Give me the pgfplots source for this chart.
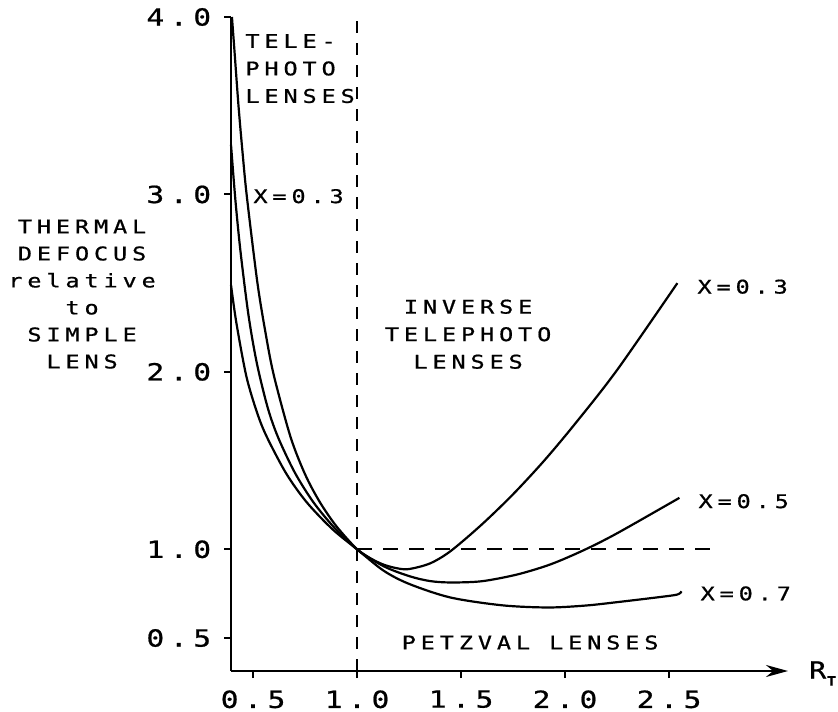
\documentclass[border=0pt]{standalone}
\usepackage{fontspec}
\usepackage{pgfplots}
\pgfplotsset{compat=1.18}
\usetikzlibrary{arrows.meta}
\newfontfamily\plotfont[FakeStretch=1.25,LetterSpace=26,FakeBold=0.8]{DejaVu Sans Mono}
\newfontfamily\tickfont[FakeStretch=1.25,LetterSpace=24,FakeBold=0.8]{DejaVu Sans Mono}
\newfontfamily\plainfont[FakeStretch=1.2,FakeBold=0.8]{DejaVu Sans Mono}
\newcommand{\lbl}{\fontsize{9.4pt}{13.75pt}\plotfont}
\newcommand{\lblb}{\fontsize{9.4pt}{13.5pt}\plotfont}
\newcommand{\tck}{\fontsize{11.8pt}{13pt}\tickfont}

\begin{document}
\begin{tikzpicture}
\path[use as bounding box] (0,0) rectangle (419pt,355.5pt);
\begin{axis}[
  at={(115.5pt,20pt)}, anchor=south west,
  scale only axis, width=278.5pt, height=327pt,
  xmin=0.394, xmax=3.072, ymin=0.314, ymax=4.0,
  axis x line=bottom, axis y line=left,
  x axis line style={line width=1.2pt,-{Stealth[length=11pt,width=6pt]}},
  y axis line style={line width=1.2pt,-},
  xtick={0.5,1.0,1.5,2.0,2.5}, xticklabels={0.5,1.0,1.5,2.0,2.5},
  ytick={0.5,1.0,2.0,3.0,4.0}, yticklabels={0.5,1.0,2.0,3.0,4.0},
  tick align=outside, major tick length=3.5pt,
  tick style={black, line width=1pt},
  xticklabel style={font=\tck, inner sep=0pt, yshift=-6pt},
  yticklabel style={font=\tck, inner sep=0pt, xshift=-6.25pt},
  clip=false,
]
% X = 0.3
\addplot[black, line width=1.1pt, smooth] coordinates {
(0.3985,4.0) (0.41,3.82) (0.43,3.50) (0.45,3.23) (0.47,2.99) (0.52,2.51)
(0.56,2.22) (0.60,1.98) (0.68,1.634) (0.75,1.423) (0.82,1.268) (0.90,1.131)
(1.0,1.0) (1.06,0.952) (1.12,0.917) (1.18,0.896) (1.245,0.888) (1.35,0.92)
(1.45,0.99) (1.6,1.14) (1.75,1.31) (1.9,1.5) (2.05,1.71) (2.25,2.01) (2.54,2.50)};
% X = 0.5
\addplot[black, line width=1.1pt, smooth] coordinates {
(0.394,3.28) (0.415,2.97) (0.44,2.675) (0.478,2.32) (0.518,2.05) (0.57,1.80)
(0.62,1.632) (0.70,1.434) (0.789,1.267) (0.89,1.123) (1.0,1.0) (1.127,0.905)
(1.25,0.849) (1.35,0.821) (1.45,0.813) (1.6,0.82) (1.77,0.858) (1.93,0.915)
(2.09,0.995) (2.25,1.09) (2.55,1.29)};
% X = 0.7
\addplot[black, line width=1.1pt, smooth] coordinates {
(0.394,2.49) (0.42,2.275) (0.468,1.974) (0.52,1.768) (0.566,1.634) (0.66,1.426)
(0.758,1.265) (0.88,1.115) (1.0,1.0) (1.127,0.88) (1.25,0.805) (1.45,0.728)
(1.7,0.684) (1.92,0.672) (2.1,0.683) (2.25,0.702) (2.45,0.73) (2.54,0.745)
(2.56,0.763)};
% reference lines
\addplot[black, line width=0.9pt, dash pattern=on 6pt off 5pt] coordinates {(1.0,0.314) (1.0,3.98)};
\addplot[black, line width=0.9pt, dash pattern=on 7.5pt off 5.5pt] coordinates {(1.0,1.0) (2.73,1.0)};
% labels
\node[font=\lbl, anchor=west, align=left, inner sep=0pt] at (axis cs:0.4615,3.709) {TELE-\\PHOTO\\LENSES};
\node[font=\lbl, anchor=west, inner sep=0pt] at (axis cs:0.5,2.99) {X=0.3};
\node[font=\lblb, align=center, inner sep=0pt] at (axis cs:-0.322,2.438) {THERMAL\\DEFOCUS\\relative\\to\\SIMPLE\\LENS};
\node[font=\lbl, align=center, inner sep=0pt] at (axis cs:1.534,2.212) {INVERSE\\TELEPHOTO\\LENSES};
\node[font=\lbl, inner sep=0pt] at (axis cs:1.832,0.4746) {PETZVAL LENSES};
\node[font=\lbl, anchor=west, inner sep=0pt] at (axis cs:2.635,2.48) {X=0.3};
\node[font=\lbl, anchor=west, inner sep=0pt] at (axis cs:2.64,1.271) {X=0.5};
\node[font=\lbl, anchor=west, inner sep=0pt] at (axis cs:2.65,0.751) {X=0.7};
\node[font={\fontsize{11.8pt}{13pt}\plainfont}, anchor=west, inner sep=0pt] at (axis cs:3.172,0.30) {R\kern0.3pt\raisebox{-0.55ex}{\fontsize{6.5pt}{8pt}\selectfont\bfseries T}};
\end{axis}
\end{tikzpicture}
\end{document}
